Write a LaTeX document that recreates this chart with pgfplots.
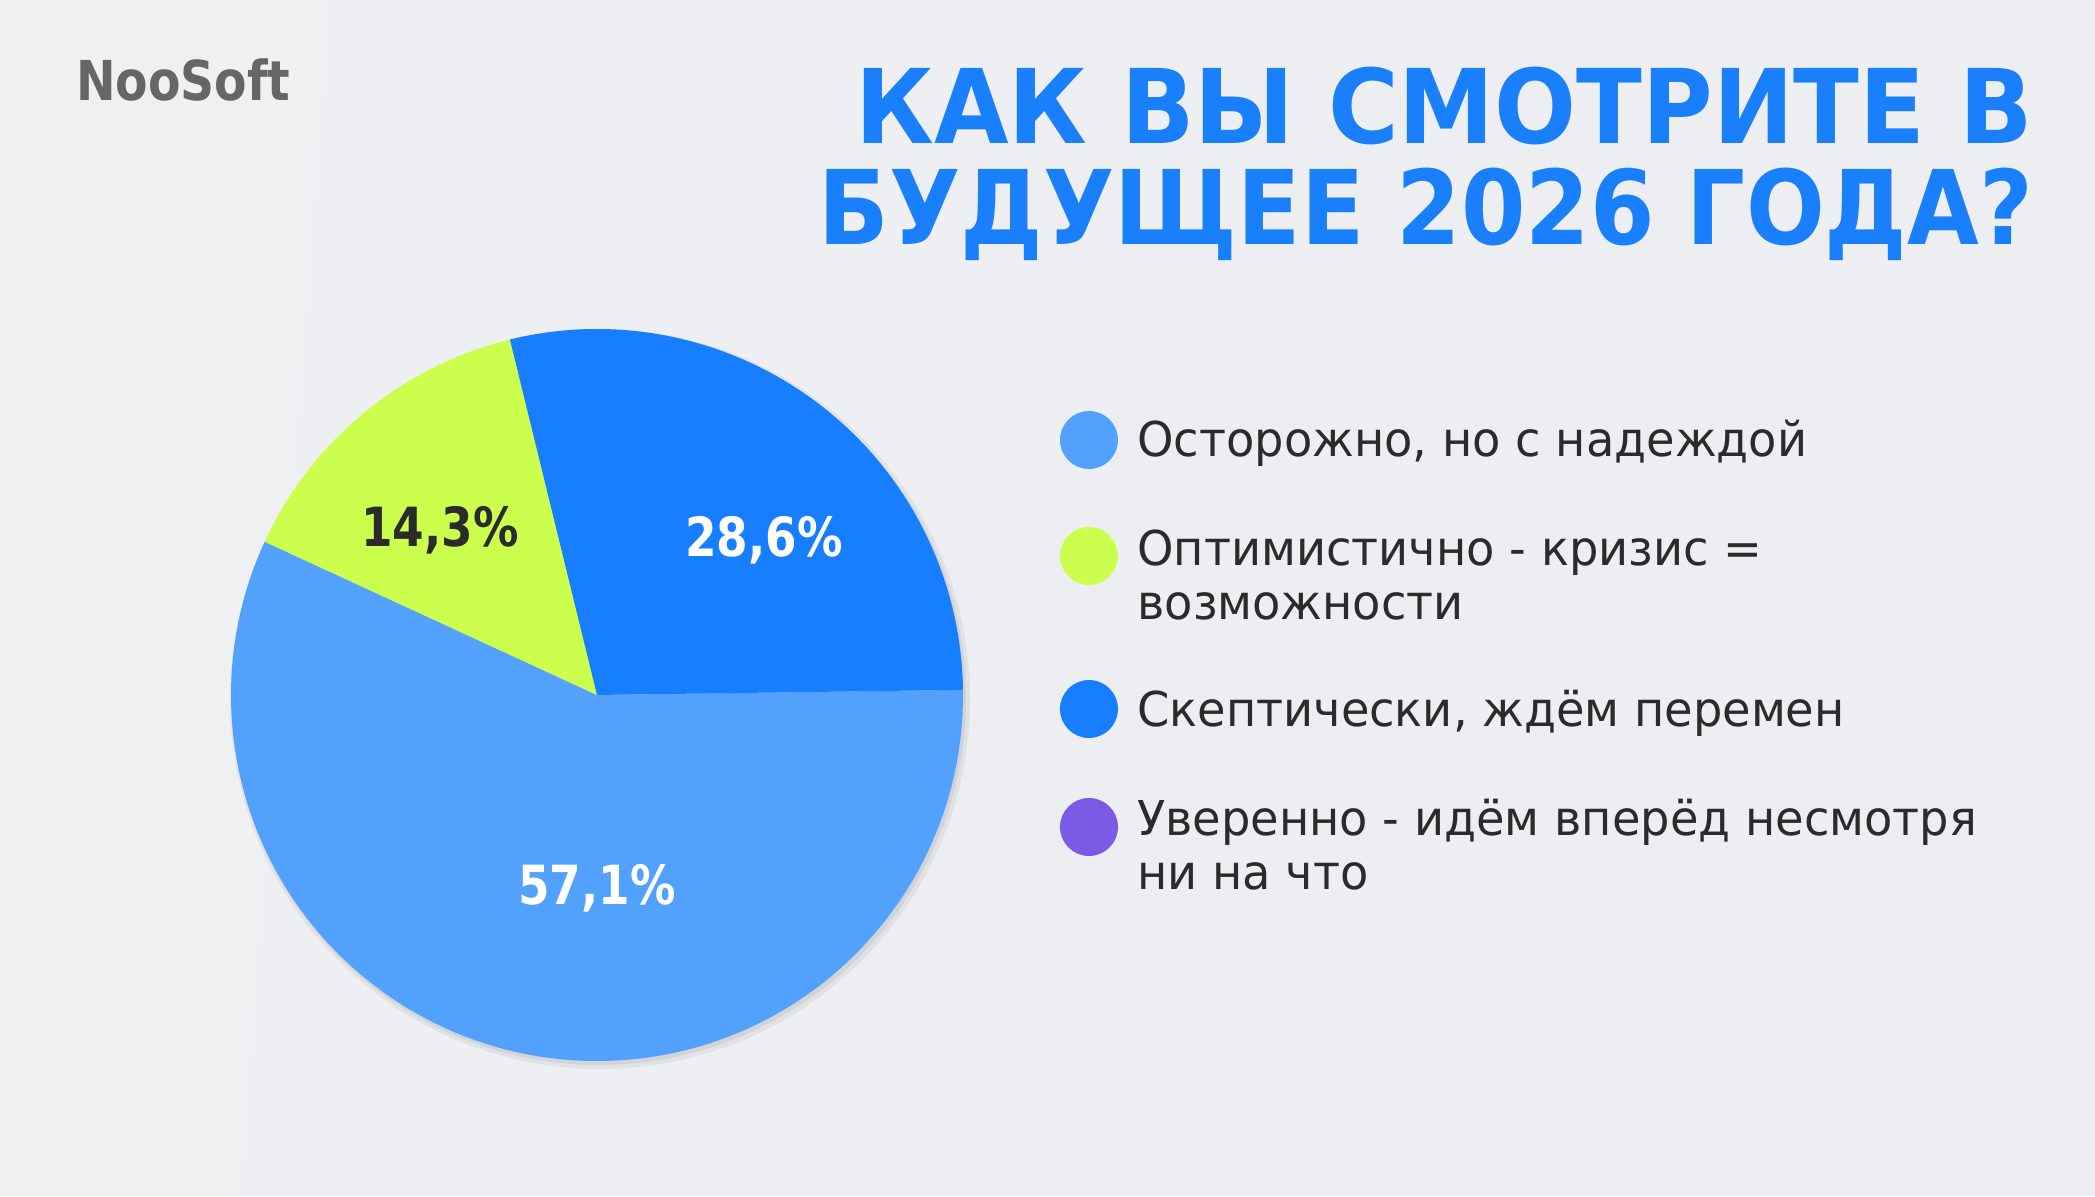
\documentclass[border=0pt]{standalone}
\usepackage{pgfplots}
\pgfplotsset{compat=1.18}
\usepackage{pgfplotstable}
\usepackage{fontspec}
\setmainfont{DejaVu Sans}

\definecolor{bgc}{HTML}{EDEEF1}
\definecolor{cLight}{HTML}{52A2FD}
\definecolor{cLime}{HTML}{CCFF4D}
\definecolor{cBlue}{HTML}{177FFF}
\definecolor{cViolet}{HTML}{7B5AE6}
\definecolor{titleblue}{HTML}{1A7FFA}
\definecolor{txt}{HTML}{2B2B2B}
\definecolor{logo}{HTML}{666668}

% shares in percent, legend order
\pgfplotstableread{
share
57.1
14.3
28.6
0
}\piedata

\begin{document}
\begin{tikzpicture}
\pgfplotstablegetelem{0}{share}\of\piedata \let\sA\pgfplotsretval
\pgfplotstablegetelem{1}{share}\of\piedata \let\sB\pgfplotsretval
\pgfplotstablegetelem{2}{share}\of\piedata \let\sC\pgfplotsretval
% slices run clockwise from just above 3 o'clock
\pgfmathsetmacro\aZero{0.8}
\pgfmathsetmacro\aA{\aZero-3.6*\sA}
\pgfmathsetmacro\aB{\aA-3.6*\sB}
\pgfmathsetmacro\aC{\aB-3.6*\sC}
\def\R{366pt}
\def\pct#1{\pgfmathprintnumber[fixed, precision=1, use comma, assume math mode=true]{#1}\%}
\begin{axis}[
    x=1pt, y=1pt,
    xmin=0, xmax=2095, ymin=0, ymax=1196,
    scale only axis, hide axis, clip=false,
]
% background
\fill[bgc] (axis cs:0,0) rectangle (axis cs:2095,1196);
\fill[white, opacity=0.12] (axis cs:0,1196) -- (axis cs:330,1196) -- (axis cs:240,0) -- (axis cs:0,0) -- cycle;
\fill[white, opacity=0.08] (axis cs:330,1196) -- (axis cs:1000,1196) -- (axis cs:760,0) -- (axis cs:240,0) -- cycle;

% pie shadow
\fill[black, opacity=0.05] (axis cs:600,497) circle[radius=370pt];
\fill[black, opacity=0.06] (axis cs:599,498) circle[radius=367pt];

% slices
\fill[cLight] (axis cs:597,501) -- ++(\aZero:\R) arc[start angle=\aZero, end angle=\aA, radius=\R] -- cycle;
\fill[cLime]  (axis cs:597,501) -- ++(\aA:\R) arc[start angle=\aA, end angle=\aB, radius=\R] -- cycle;
\fill[cBlue]  (axis cs:597,501) -- ++(\aB:\R) arc[start angle=\aB, end angle=\aC, radius=\R] -- cycle;

% slice labels
\begin{scope}[every node/.style={font=\bfseries\fontsize{54}{54}\selectfont, xscale=0.84}]
\node[text=white] at (axis cs:764,656) {\pct{\sC}};
\node[text=txt]   at (axis cs:440,666) {\pct{\sB}};
\node[text=white] at (axis cs:597,308) {\pct{\sA}};
\end{scope}

% legend
\fill[cLight]  (axis cs:1089,756) circle[radius=29pt];
\fill[cLime]   (axis cs:1089,640) circle[radius=29pt];
\fill[cBlue]   (axis cs:1089,487) circle[radius=29pt];
\fill[cViolet] (axis cs:1089,369) circle[radius=29pt];
\begin{scope}[every node/.style={anchor=base west, text=txt, align=left, xscale=0.965,
    font=\fontsize{48}{54}\selectfont}]
\node at (axis cs:1134,739) {Осторожно, но с надеждой};
\node[anchor=north west] at (axis cs:1134,670) {Оптимистично - кризис =\\возможности};
\node at (axis cs:1134,469) {Скептически, ждём перемен};
\node[anchor=north west] at (axis cs:1134,400) {Уверенно - идём вперёд несмотря\\ни на что};
\end{scope}

% title and logo
\node[anchor=base east, text=titleblue, font=\bfseries\fontsize{103}{103}\selectfont, xscale=0.936] at (axis cs:2036,1052) {КАК ВЫ СМОТРИТЕ В};
\node[anchor=base east, text=titleblue, font=\bfseries\fontsize{103}{103}\selectfont, xscale=0.90] at (axis cs:2036,951) {БУДУЩЕЕ 2026 ГОДА?};
\node[anchor=base west, text=logo, font=\bfseries\fontsize{55}{55}\selectfont, xscale=0.86, inner sep=0pt] at (axis cs:76,1095) {NooSoft};
\end{axis}
\end{tikzpicture}
\end{document}
